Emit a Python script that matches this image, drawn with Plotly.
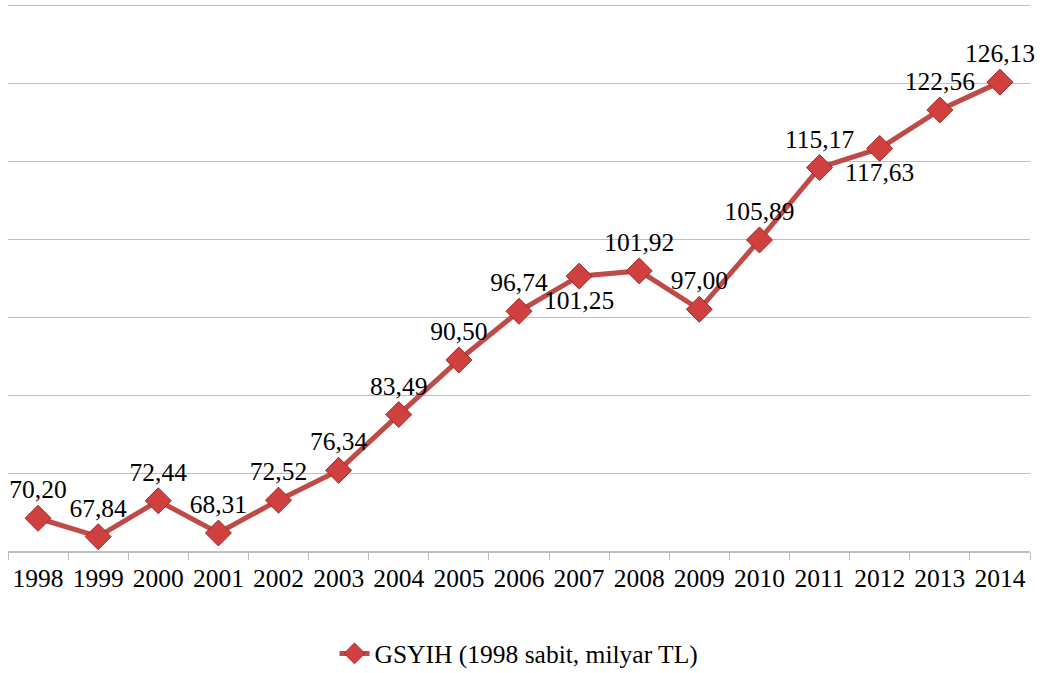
import plotly.graph_objects as go

years = ["1998", "1999", "2000", "2001", "2002", "2003", "2004", "2005", "2006",
         "2007", "2008", "2009", "2010", "2011", "2012", "2013", "2014"]
gdp = [70.20, 67.84, 72.44, 68.31, 72.52, 76.34, 83.49, 90.50, 96.74,
       101.25, 101.92, 97.00, 105.89, 115.17, 117.63, 122.56, 126.13]
label_pos = ["top center"] * len(years)
label_pos[years.index("2007")] = "bottom center"
label_pos[years.index("2012")] = "bottom center"
labels = [f"{v:.2f}".replace(".", ",") for v in gdp]
series_name = "GSYIH (1998 sabit, milyar TL)"

font_family = "Liberation Serif, Times New Roman, serif"
fsize = 25.5

fig = go.Figure()
fig.add_trace(go.Scatter(
    x=years, y=gdp, name=series_name,
    mode="lines+markers+text",
    text=labels, textposition=label_pos,
    textfont=dict(family=font_family, size=fsize, color="#000000"),
    line=dict(color="#BE4B48", width=5),
    marker=dict(symbol="diamond", size=20, color="#D0403E",
                line=dict(color="#9A2E2C", width=1)),
    cliponaxis=False,
))

fig.update_layout(
    width=1043, height=673,
    margin=dict(l=8, r=13, t=4, b=122, autoexpand=False),
    paper_bgcolor="white", plot_bgcolor="white",
    font=dict(family=font_family, size=fsize, color="#000000"),
    showlegend=True,
    legend=dict(orientation="h", x=0.5, xanchor="center", y=-0.145, yanchor="top",
                font=dict(family=font_family, size=fsize, color="#000000"),
                itemwidth=30),
)
fig.update_xaxes(
    type="category", range=[-0.5, 16.5], automargin=False, tickangle=0,
    showgrid=False, showline=True, linecolor="#BFBFBF", linewidth=1.5,
    ticks="outside", tickson="boundaries", ticklen=7, tickcolor="#BFBFBF",
    ticklabelstandoff=4,
    tickfont=dict(family=font_family, size=fsize, color="#000000"),
    zeroline=False,
)
fig.update_yaxes(
    range=[66, 136.15], tick0=66, dtick=10, automargin=False,
    showgrid=True, gridcolor="#BFBFBF", gridwidth=1,
    showticklabels=False, zeroline=False, showline=False,
)

fig.write_html("out.html",
               config={"displayModeBar": False},
               post_script="document.body.style.margin='0';document.body.style.overflow='hidden';")
